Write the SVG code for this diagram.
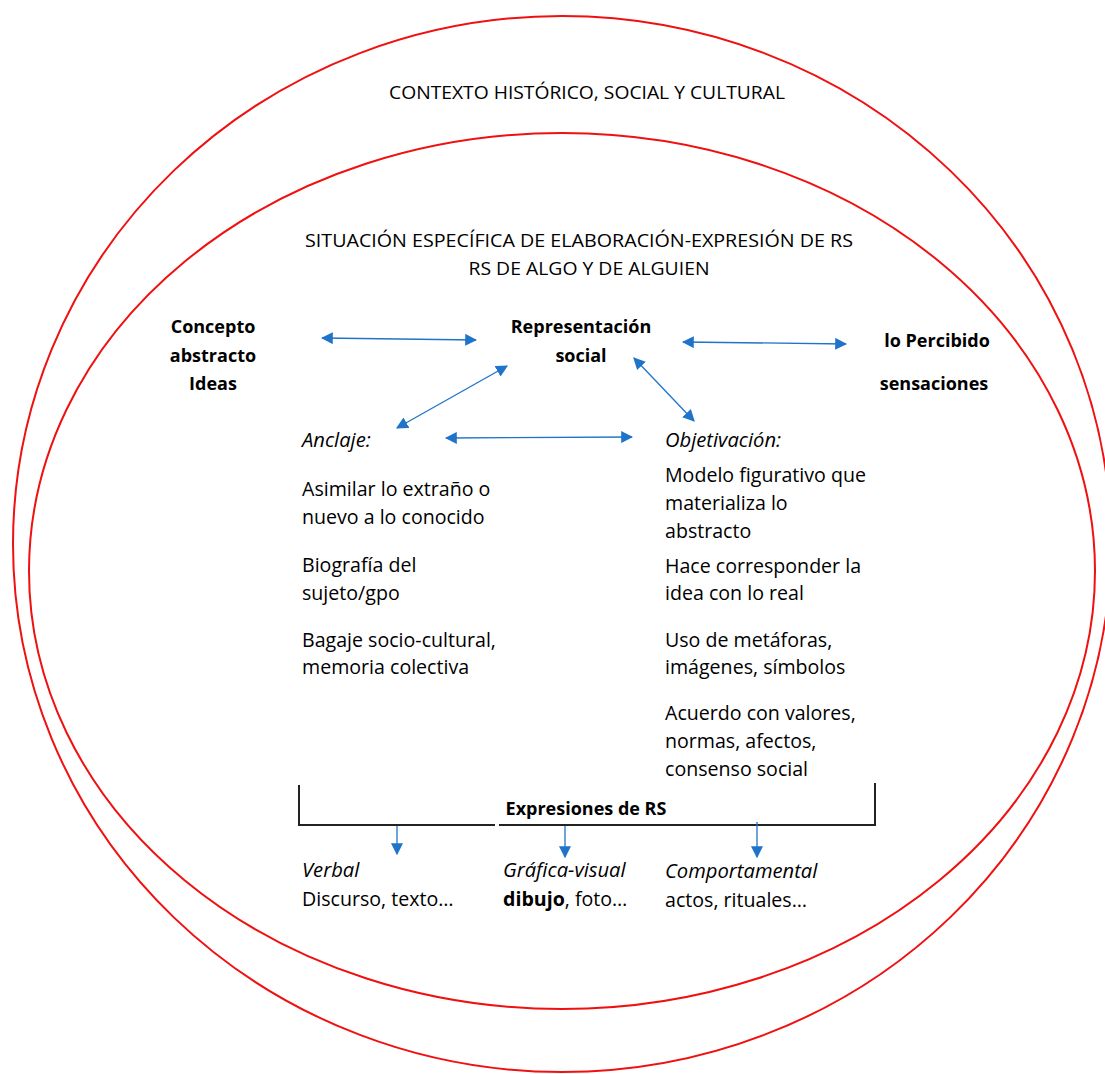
<svg xmlns="http://www.w3.org/2000/svg" width="1105" height="1074" viewBox="0 0 1105 1074">
<defs>
<marker id="ah" viewBox="0 0 10 10" refX="9" refY="5" markerWidth="12" markerHeight="12" markerUnits="userSpaceOnUse" orient="auto-start-reverse">
<path d="M0,0 L10,5 L0,10 z" fill="#1f73c9"/>
</marker>
<style>
.ell{fill:none;stroke:#f01010;stroke-width:2}
.t{font-family:"Open Sans","Liberation Sans",sans-serif;font-size:19.6px;fill:#000}
.h{font-family:"Open Sans","Liberation Sans",sans-serif;font-size:17.5px;fill:#000}
.b{font-family:"Open Sans","Liberation Sans",sans-serif;font-size:18px;font-weight:bold;fill:#000}
.i{font-style:italic;font-size:20.2px}
.c{stroke:#1f73c9;stroke-width:1.3;fill:none;marker-end:url(#ah)}
.d{stroke:#1f73c9;stroke-width:1.3;fill:none;marker-start:url(#ah);marker-end:url(#ah)}
.br{stroke:#222;stroke-width:2;fill:none}
</style>
</defs>
<rect width="1105" height="1074" fill="#fff"/>
<g id="contexto">
<ellipse class="ell" cx="562" cy="544" rx="549" ry="528"/>
<text class="h" x="587" y="99" text-anchor="middle" textLength="396" lengthAdjust="spacingAndGlyphs">CONTEXTO HISTÓRICO, SOCIAL Y CULTURAL</text>
</g>
<g id="situacion">
<ellipse class="ell" cx="562" cy="571" rx="533" ry="438"/>
<text class="h" x="579" y="247" text-anchor="middle" textLength="548" lengthAdjust="spacingAndGlyphs">SITUACIÓN ESPECÍFICA DE ELABORACIÓN-EXPRESIÓN DE  RS</text>
<text class="h" x="589" y="275" text-anchor="middle" textLength="241" lengthAdjust="spacingAndGlyphs">RS DE ALGO Y DE ALGUIEN</text>
</g>
<g id="concepto">
<text class="b" x="213" y="333" text-anchor="middle">Concepto</text>
<text class="b" x="213" y="362" text-anchor="middle">abstracto</text>
<text class="b" x="213" y="390" text-anchor="middle">Ideas</text>
</g>
<g id="representacion">
<text class="b" x="581" y="333" text-anchor="middle">Representación</text>
<text class="b" x="581" y="362" text-anchor="middle">social</text>
</g>
<g id="percibido">
<text class="b" x="937" y="347" text-anchor="middle">lo Percibido</text>
<text class="b" x="934" y="390" text-anchor="middle">sensaciones</text>
</g>
<g id="anclaje">
<text class="t i" x="302" y="447">Anclaje:</text>
<text class="t" x="302" y="496">Asimilar lo extraño o</text>
<text class="t" x="302" y="524">nuevo a lo conocido</text>
<text class="t" x="302" y="572">Biografía del</text>
<text class="t" x="302" y="600">sujeto/gpo</text>
<text class="t" x="302" y="647">Bagaje socio-cultural,</text>
<text class="t" x="302" y="674">memoria colectiva</text>
</g>
<g id="objetivacion">
<text class="t i" x="665" y="447">Objetivación:</text>
<text class="t" x="665" y="482">Modelo figurativo que</text>
<text class="t" x="665" y="510">materializa lo</text>
<text class="t" x="665" y="538">abstracto</text>
<text class="t" x="665" y="573">Hace corresponder la</text>
<text class="t" x="665" y="600">idea con lo real</text>
<text class="t" x="665" y="647">Uso de metáforas,</text>
<text class="t" x="665" y="674">imágenes, símbolos</text>
<text class="t" x="665" y="720">Acuerdo con valores,</text>
<text class="t" x="665" y="748">normas, afectos,</text>
<text class="t" x="665" y="776">consenso social</text>
</g>
<g id="expresiones">
<path class="br" d="M299,785 V825 H495 M499,825 H875 V783"/>
<text class="b" x="586" y="815" text-anchor="middle">Expresiones de RS</text>
</g>
<g id="verbal">
<text class="t i" x="302" y="877">Verbal</text>
<text class="t" x="302" y="906">Discurso, texto…</text>
</g>
<g id="grafica">
<text class="t i" x="503" y="877">Gráfica-visual</text>
<text class="t" x="503" y="906"><tspan font-weight="bold">dibujo</tspan>, foto…</text>
</g>
<g id="comportamental">
<text class="t i" x="665" y="878">Comportamental</text>
<text class="t" x="665" y="907">actos, rituales…</text>
</g>
<g id="connectors">
<line class="d" x1="322" y1="338" x2="476" y2="340"/>
<line class="d" x1="683" y1="342" x2="846" y2="344"/>
<line class="d" x1="397" y1="428" x2="507" y2="366"/>
<line class="d" x1="634" y1="358" x2="694" y2="421"/>
<line class="d" x1="446" y1="438" x2="632" y2="437"/>
<line class="c" x1="397" y1="826" x2="397" y2="854"/>
<line class="c" x1="565" y1="826" x2="565" y2="857"/>
<line class="c" x1="757" y1="822" x2="757" y2="857"/>
</g>
</svg>
